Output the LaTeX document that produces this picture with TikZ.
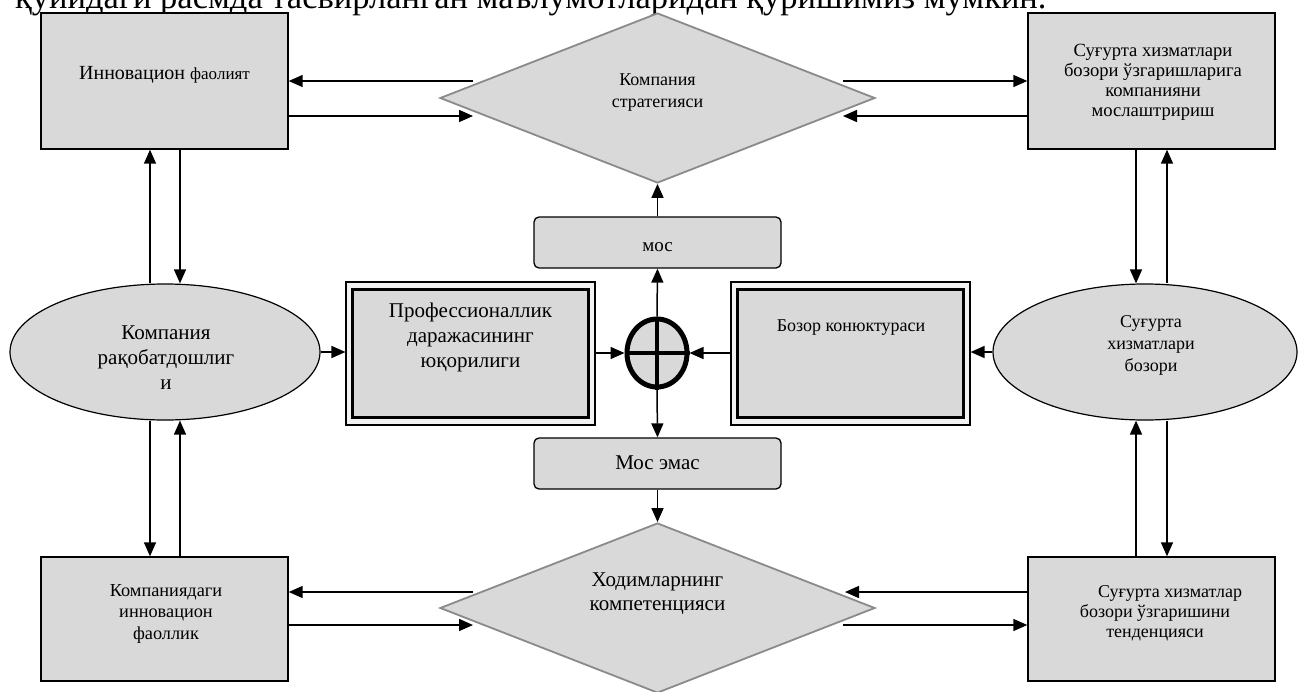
\documentclass[tikz,border=0pt]{standalone}
\usepackage{fontspec}
\setmainfont{Liberation Serif}
\usetikzlibrary{shapes.geometric,arrows.meta}
\definecolor{boxgray}{HTML}{D9D9D9}
\definecolor{edgegray}{HTML}{8A8A8A}
\tikzset{
  arr/.style={line width=1.5pt,-{Triangle[length=14pt,width=12pt]}},
  sqbox/.style={draw,line width=1.4pt,fill=boxgray,rectangle,minimum width=247pt,inner sep=0pt},
  oval/.style={draw,line width=1.2pt,fill=boxgray,ellipse,minimum height=136pt,inner sep=0pt},
  dia/.style={draw=edgegray,line width=1.8pt,fill=boxgray,diamond,minimum width=435pt,minimum height=170pt,inner sep=0pt},
  rbox/.style={draw,line width=1.3pt,fill=boxgray,rectangle,rounded corners=5pt,minimum width=247pt,minimum height=51pt,inner sep=0pt},
  dblin/.style={draw,line width=3pt,fill=boxgray,rectangle,minimum height=128pt,inner sep=0pt},
  dblout/.style={draw,line width=1.1pt,fill=gray!10,rectangle,inner sep=0pt,minimum height=143pt},
  txt/.style={align=center,inner sep=0pt},
}
\begin{document}
\begin{tikzpicture}[x=1pt,y=-1pt]
\useasboundingbox (0,0) rectangle (1298,691);
\clip (0,0) rectangle (1298,691);
\fill[white] (0,0) rectangle (1298,691);

% top clipped sentence
\node[anchor=base west,inner sep=0pt,font=\fontsize{34.5}{40}\selectfont] (toptext) at (15,8.5) {қуйидаги расмда тасвирланган маълумотларидан қуришимиз мумкин.};

% corner boxes
\node[sqbox,minimum height=136pt] (b1) at (164.5,81) {};
\node[txt,font=\fontsize{20}{22}\selectfont] (b1t) at (164.5,75) {Инновацион {\fontsize{17}{20}\selectfont фаолият}};
\node[sqbox,minimum height=136pt] (b2) at (1151.5,81) {};
\node[txt,font=\fontsize{18.6}{20}\selectfont] (b2t) at (1153,82.5) {Суғурта хизматлари\\бозори ўзгаришларига\\компанияни\\мослаштририш};
\node[sqbox,minimum height=124pt] (b3) at (164.5,619) {};
\node[txt,font=\fontsize{18.3}{21.5}\selectfont] (b3t) at (166,613.5) {Компаниядаги\\инновацион\\фаоллик};
\node[sqbox,minimum height=124pt] (b4) at (1151.5,619) {};
\node[txt,font=\fontsize{18}{20}\selectfont] (b4t) at (1155,613) {\hspace*{30pt}Суғурта хизматлар\\бозори ўзгаришини\\тенденцияси};

% ellipses
\node[oval,minimum width=310pt] (e1) at (165,352) {};
\node[txt,font=\fontsize{21}{25}\selectfont] (e1t) at (166,358) {Компания\\рақобатдошлиг\\и};
\node[oval,minimum width=304pt] (e2) at (1145,352) {};
\node[txt,font=\fontsize{18}{22}\selectfont] (e2t) at (1151,345) {Суғурта\\хизматлари\\бозори};

% diamonds
\node[dia] (d1) at (657.5,98) {};
\node[txt,font=\fontsize{18}{21.5}\selectfont] (d1t) at (657.5,92.5) {Компания\\стратегияси};
\node[dia] (d2) at (657.5,608) {};
\node[txt,font=\fontsize{21}{24}\selectfont] (d2t) at (657.5,594) {Ходимларнинг\\компетенцияси};

% double-framed boxes
\node[dblout,minimum width=249pt] (po) at (470.5,353.5) {};
\node[dblin,minimum width=236pt] (p) at (470.5,353) {};
\node[txt,font=\fontsize{21}{25}\selectfont] (pt) at (470.5,337) {Профессионаллик\\даражасининг\\юқорилиги};
\node[dblout,minimum width=239pt] (zo) at (850.5,353.5) {};
\node[dblin,minimum width=226pt] (z) at (850.5,353) {};
\node[txt,font=\fontsize{18}{22}\selectfont] (zt) at (851,328) {Бозор конюктураси};

% small rounded boxes
\node[rbox] (mos) at (657.5,242.5) {};
\node[txt,font=\fontsize{19}{22}\selectfont] (most) at (657.5,247) {мос};
\node[rbox] (me) at (657.5,463.5) {};
\node[txt,font=\fontsize{21}{24}\selectfont] (met) at (657.5,463) {Мос эмас};

% circled plus
\node[draw,line width=5pt,fill=boxgray,ellipse,minimum width=60pt,minimum height=68pt,inner sep=0pt] (c) at (657,353) {};
\draw[line width=4.5pt] (c.north) -- (c.south);
\draw[line width=4.5pt] (c.west) -- (c.east);

% free ends on the diamonds
\coordinate (d1l1) at (473,81);  \coordinate (d1l2) at (473,116);
\coordinate (d1r1) at (843,81);  \coordinate (d1r2) at (843,116);
\coordinate (d2l1) at (473,592); \coordinate (d2l2) at (473,625);
\coordinate (d2r1) at (845,592); \coordinate (d2r2) at (843,625);

% horizontal connectors at diamonds
\draw[arr] (d1l1) -- (b1.east |- d1l1);
\draw[arr] (b1.east |- d1l2) -- (d1l2);
\draw[arr] (d1r1) -- (b2.west |- d1r1);
\draw[arr] (b2.west |- d1r2) -- (d1r2);
\draw[arr] (d2l1) -- (b3.east |- d2l1);
\draw[arr] (b3.east |- d2l2) -- (d2l2);
\draw[arr] (b4.west |- d2r1) -- (d2r1);
\draw[arr] (d2r2) -- (b4.west |- d2r2);

% vertical connectors, left
\coordinate (xl1) at (150,0); \coordinate (xl2) at (180,0);
\draw[arr] (e1.north -| xl1) -- (b1.south -| xl1);
\draw[arr] (b1.south -| xl2) -- (e1.north -| xl2);
\draw[arr] (e1.south -| xl1) -- (b3.north -| xl1);
\draw[arr] (b3.north -| xl2) -- (e1.south -| xl2);

% vertical connectors, right
\coordinate (xr1) at (1136,0); \coordinate (xr2) at (1167,0);
\draw[arr] (b2.south -| xr1) -- (e2.north -| xr1);
\draw[arr] (e2.north -| xr2) -- (b2.south -| xr2);
\draw[arr] (b4.north -| xr1) -- (e2.south -| xr1);
\draw[arr] (e2.south -| xr2) -- (b4.north -| xr2);

% centre connectors
\draw[arr] (e1.east) -- (po.west |- e1.east);
\draw[arr] (po.east |- c.west) -- (c.west);
\draw[arr] (zo.west |- c.east) -- (c.east);
\draw[arr] (e2.west) -- (zo.east |- e2.west);
\draw[arr] (c.north) -- (mos.south);
\draw[arr] (mos.north) -- (d1.south);
\draw[arr] (c.south) -- (me.north);
\draw[arr] (me.south) -- (d2.north);
\end{tikzpicture}
\end{document}
